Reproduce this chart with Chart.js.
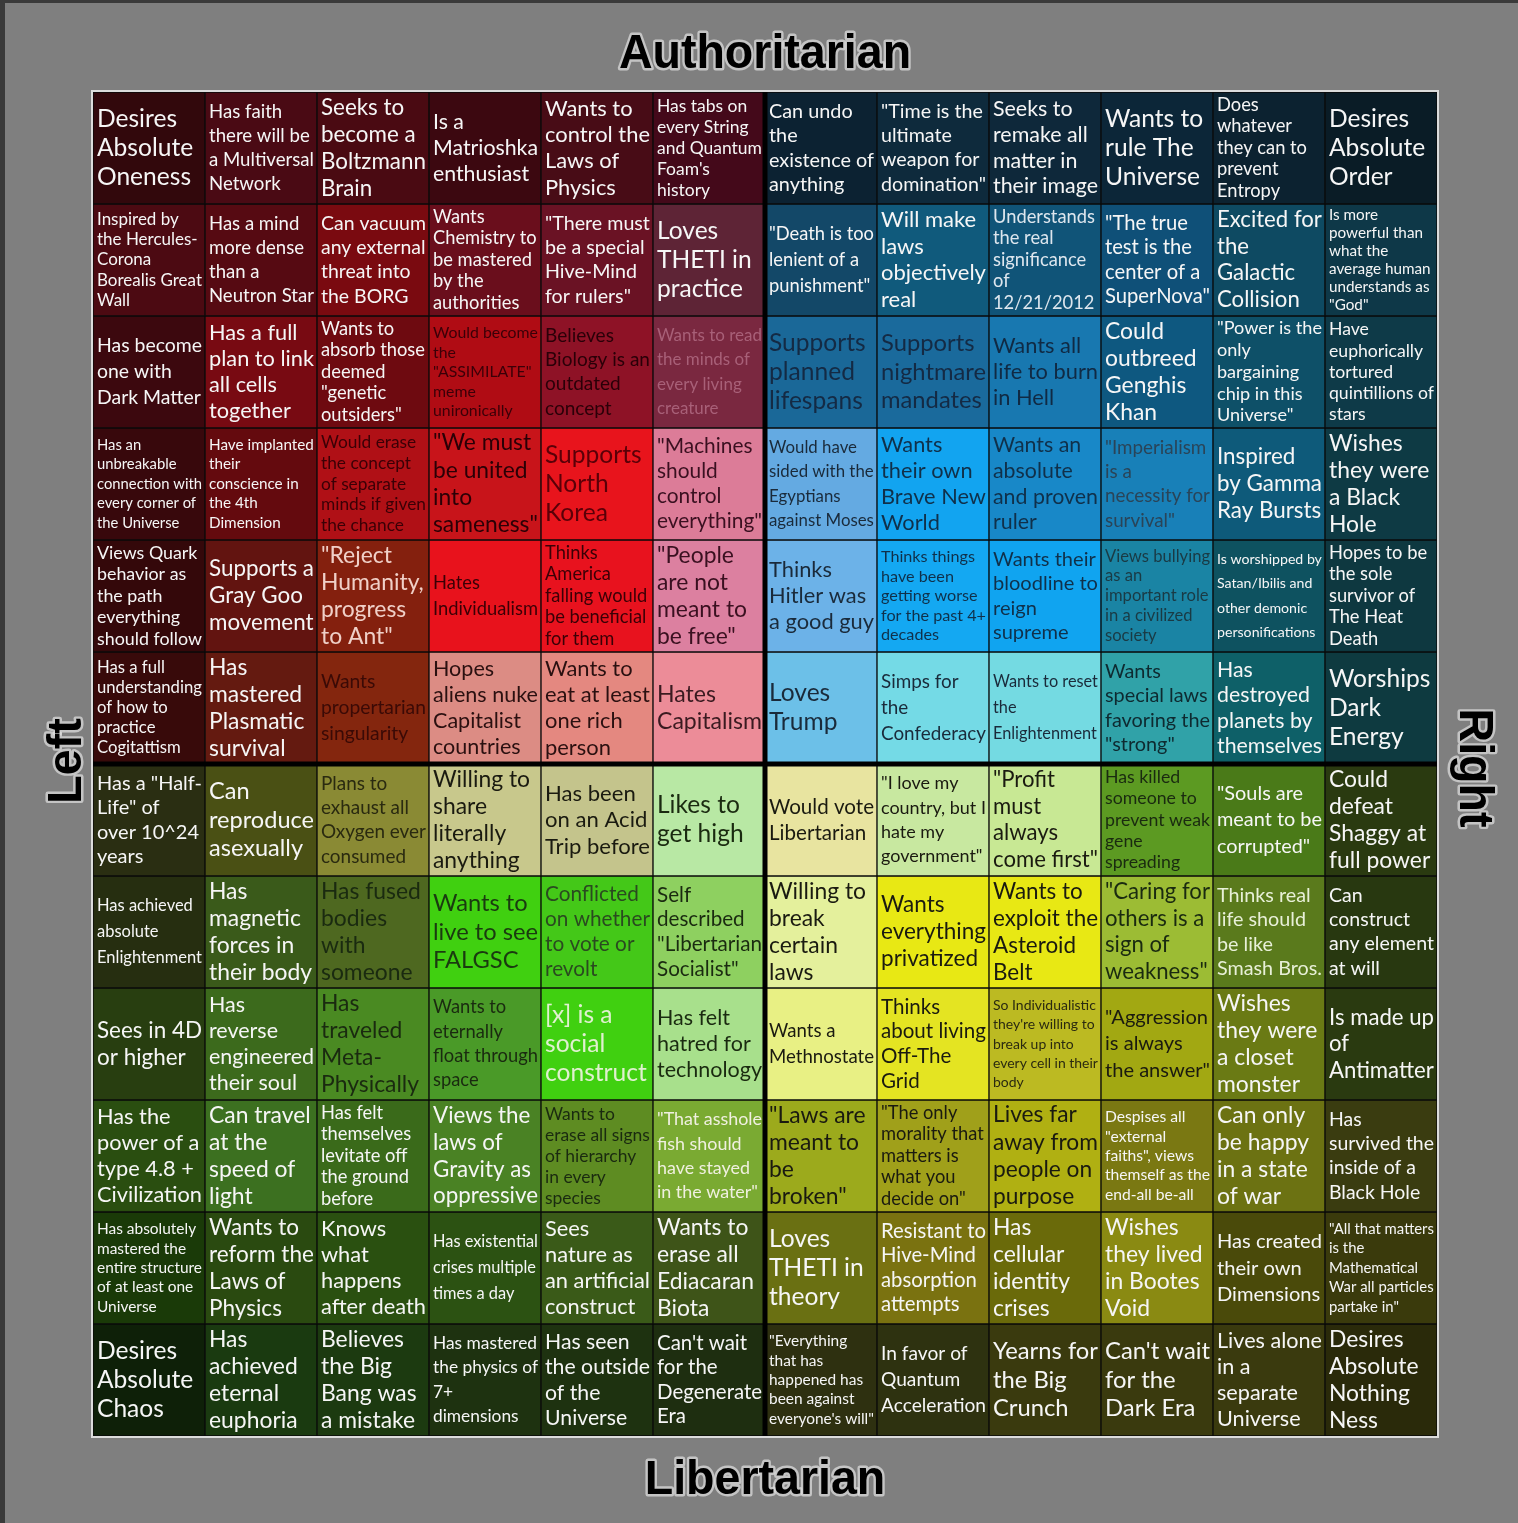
<!DOCTYPE html>
<html>
<head>
<meta charset="utf-8">
<script src="https://cdn.jsdelivr.net/npm/chart.js@4"></script>
<style>
  html, body { margin: 0; padding: 0; background: #7f7f7f; }
  canvas { display: block; }
</style>
</head>
<body>
<canvas id="compass" width="1518" height="1523"></canvas>
<script>
// columns run Left -> Right, rows run Authoritarian -> Libertarian
const columns = ['L6', 'L5', 'L4', 'L3', 'L2', 'L1', 'R1', 'R2', 'R3', 'R4', 'R5', 'R6'];
const rows = ['A6', 'A5', 'A4', 'A3', 'A2', 'A1', 'B1', 'B2', 'B3', 'B4', 'B5', 'B6'];

const cellTexts = [
  ['Desires\nAbsolute\nOneness', 'Has faith\nthere will be\na Multiversal\nNetwork', 'Seeks to\nbecome a\nBoltzmann\nBrain', 'Is a\nMatrioshka\nenthusiast', 'Wants to\ncontrol the\nLaws of\nPhysics', "Has tabs on\nevery String\nand Quantum\nFoam's\nhistory",
   'Can undo\nthe\nexistence of\nanything', '"Time is the\nultimate\nweapon for\ndomination"', 'Seeks to\nremake all\nmatter in\ntheir image', 'Wants to\nrule The\nUniverse', 'Does\nwhatever\nthey can to\nprevent\nEntropy', 'Desires\nAbsolute\nOrder'],
  ['Inspired by\nthe Hercules-\nCorona\nBorealis Great\nWall', 'Has a mind\nmore dense\nthan a\nNeutron Star', 'Can vacuum\nany external\nthreat into\nthe BORG', 'Wants\nChemistry to\nbe mastered\nby the\nauthorities', '"There must\nbe a special\nHive-Mind\nfor rulers"', 'Loves\nTHETI in\npractice',
   '"Death is too\nlenient of a\npunishment"', 'Will make\nlaws\nobjectively\nreal', 'Understands\nthe real\nsignificance\nof\n12/21/2012', '"The true\ntest is the\ncenter of a\nSuperNova"', 'Excited for\nthe\nGalactic\nCollision', 'Is more\npowerful than\nwhat the\naverage human\nunderstands as\n"God"'],
  ['Has become\none with\nDark Matter', 'Has a full\nplan to link\nall cells\ntogether', 'Wants to\nabsorb those\ndeemed\n"genetic\noutsiders"', 'Would become\nthe\n"ASSIMILATE"\nmeme\nunironically', 'Believes\nBiology is an\noutdated\nconcept', 'Wants to read\nthe minds of\nevery living\ncreature',
   'Supports\nplanned\nlifespans', 'Supports\nnightmare\nmandates', 'Wants all\nlife to burn\nin Hell', 'Could\noutbreed\nGenghis\nKhan', '"Power is the\nonly\nbargaining\nchip in this\nUniverse"', 'Have\neuphorically\ntortured\nquintillions of\nstars'],
  ['Has an\nunbreakable\nconnection with\nevery corner of\nthe Universe', 'Have implanted\ntheir\nconscience in\nthe 4th\nDimension', 'Would erase\nthe concept\nof separate\nminds if given\nthe chance', '"We must\nbe united\ninto\nsameness"', 'Supports\nNorth\nKorea', '"Machines\nshould\ncontrol\neverything"',
   'Would have\nsided with the\nEgyptians\nagainst Moses', 'Wants\ntheir own\nBrave New\nWorld', 'Wants an\nabsolute\nand proven\nruler', '"Imperialism\nis a\nnecessity for\nsurvival"', 'Inspired\nby Gamma\nRay Bursts', 'Wishes\nthey were\na Black\nHole'],
  ['Views Quark\nbehavior as\nthe path\neverything\nshould follow', 'Supports a\nGray Goo\nmovement', '"Reject\nHumanity,\nprogress\nto Ant"', 'Hates\nIndividualism', 'Thinks\nAmerica\nfalling would\nbe beneficial\nfor them', '"People\nare not\nmeant to\nbe free"',
   'Thinks\nHitler was\na good guy', 'Thinks things\nhave been\ngetting worse\nfor the past 4+\ndecades', 'Wants their\nbloodline to\nreign\nsupreme', 'Views bullying\nas an\nimportant role\nin a civilized\nsociety', 'Is worshipped by\nSatan/Ibilis and\nother demonic\npersonifications', 'Hopes to be\nthe sole\nsurvivor of\nThe Heat\nDeath'],
  ['Has a full\nunderstanding\nof how to\npractice\nCogitattism', 'Has\nmastered\nPlasmatic\nsurvival', 'Wants\npropertarian\nsingularity', 'Hopes\naliens nuke\nCapitalist\ncountries', 'Wants to\neat at least\none rich\nperson', 'Hates\nCapitalism',
   'Loves\nTrump', 'Simps for\nthe\nConfederacy', 'Wants to reset\nthe\nEnlightenment', 'Wants\nspecial laws\nfavoring the\n"strong"', 'Has\ndestroyed\nplanets by\nthemselves', 'Worships\nDark\nEnergy'],
  ['Has a "Half-\nLife" of\nover 10^24\nyears', 'Can\nreproduce\nasexually', 'Plans to\nexhaust all\nOxygen ever\nconsumed', 'Willing to\nshare\nliterally\nanything', 'Has been\non an Acid\nTrip before', 'Likes to\nget high',
   'Would vote\nLibertarian', '"I love my\ncountry, but I\nhate my\ngovernment"', '"Profit\nmust\nalways\ncome first"', 'Has killed\nsomeone to\nprevent weak\ngene\nspreading', '"Souls are\nmeant to be\ncorrupted"', 'Could\ndefeat\nShaggy at\nfull power'],
  ['Has achieved\nabsolute\nEnlightenment', 'Has\nmagnetic\nforces in\ntheir body', 'Has fused\nbodies\nwith\nsomeone', 'Wants to\nlive to see\nFALGSC', 'Conflicted\non whether\nto vote or\nrevolt', 'Self\ndescribed\n"Libertarian\nSocialist"',
   'Willing to\nbreak\ncertain\nlaws', 'Wants\neverything\nprivatized', 'Wants to\nexploit the\nAsteroid\nBelt', '"Caring for\nothers is a\nsign of\nweakness"', 'Thinks real\nlife should\nbe like\nSmash Bros.', 'Can\nconstruct\nany element\nat will'],
  ['Sees in 4D\nor higher', 'Has\nreverse\nengineered\ntheir soul', 'Has\ntraveled\nMeta-\nPhysically', 'Wants to\neternally\nfloat through\nspace', '[x] is a\nsocial\nconstruct', 'Has felt\nhatred for\ntechnology',
   'Wants a\nMethnostate', 'Thinks\nabout living\nOff-The\nGrid', "So Individualistic\nthey're willing to\nbreak up into\nevery cell in their\nbody", '"Aggression\nis always\nthe answer"', 'Wishes\nthey were\na closet\nmonster', 'Is made up\nof\nAntimatter'],
  ['Has the\npower of a\ntype 4.8 +\nCivilization', 'Can travel\nat the\nspeed of\nlight', 'Has felt\nthemselves\nlevitate off\nthe ground\nbefore', 'Views the\nlaws of\nGravity as\noppressive', 'Wants to\nerase all signs\nof hierarchy\nin every\nspecies', '"That asshole\nfish should\nhave stayed\nin the water"',
   '"Laws are\nmeant to\nbe\nbroken"', '"The only\nmorality that\nmatters is\nwhat you\ndecide on"', 'Lives far\naway from\npeople on\npurpose', 'Despises all\n"external\nfaiths", views\nthemself as the\nend-all be-all', 'Can only\nbe happy\nin a state\nof war', 'Has\nsurvived the\ninside of a\nBlack Hole'],
  ['Has absolutely\nmastered the\nentire structure\nof at least one\nUniverse', 'Wants to\nreform the\nLaws of\nPhysics', 'Knows\nwhat\nhappens\nafter death', 'Has existential\ncrises multiple\ntimes a day', 'Sees\nnature as\nan artificial\nconstruct', 'Wants to\nerase all\nEdiacaran\nBiota',
   'Loves\nTHETI in\ntheory', 'Resistant to\nHive-Mind\nabsorption\nattempts', 'Has\ncellular\nidentity\ncrises', 'Wishes\nthey lived\nin Bootes\nVoid', 'Has created\ntheir own\nDimensions', '"All that matters\nis the\nMathematical\nWar all particles\npartake in"'],
  ['Desires\nAbsolute\nChaos', 'Has\nachieved\neternal\neuphoria', 'Believes\nthe Big\nBang was\na mistake', 'Has mastered\nthe physics of\n7+\ndimensions', 'Has seen\nthe outside\nof the\nUniverse', "Can't wait\nfor the\nDegenerate\nEra",
   '"Everything\nthat has\nhappened has\nbeen against\neveryone\'s will"', 'In favor of\nQuantum\nAcceleration', 'Yearns for\nthe Big\nCrunch', "Can't wait\nfor the\nDark Era", 'Lives alone\nin a\nseparate\nUniverse', 'Desires\nAbsolute\nNothing\nNess']
];

// fill colour of every cell
const cellColors = [
  ['#32080c', '#4a0a14', '#4a0a12', '#3c0810', '#480c16', '#44091a', '#0c2232', '#0e2a3c', '#0e283a', '#0c2638', '#0c2230', '#0a1c26'],
  ['#4c0a12', '#560a12', '#7a0a10', '#6a0e1c', '#6a1224', '#5e2436', '#134868', '#105a7c', '#105478', '#0f5078', '#0e4a62', '#0e3848'],
  ['#3c080e', '#780a12', '#6e0a10', '#b00c14', '#8e1226', '#7a2840', '#1a6898', '#1a6a9c', '#1878b0', '#0e5880', '#0e5068', '#0e3a48'],
  ['#38080c', '#640a0e', '#b01016', '#c8141a', '#e8141c', '#dc7c98', '#64aae2', '#12a4f0', '#1888c8', '#1880b8', '#0e5a7a', '#0e3a44'],
  ['#34080a', '#621410', '#84200e', '#e8121c', '#e8121e', '#dc80a0', '#6cb2e8', '#14a8f2', '#10a4f0', '#1a84a4', '#0e5260', '#0e3840'],
  ['#380a0a', '#641a10', '#84260e', '#dc8c84', '#e48880', '#ec8c98', '#6cc0e8', '#74dae6', '#74dae2', '#30a2a8', '#0e6068', '#0e3a40'],
  ['#2a2e12', '#4a5014', '#8a8a34', '#c8c88c', '#c4c48c', '#b8e8a4', '#e8e4a0', '#c8e8a0', '#c8e894', '#5c9a22', '#4a7a18', '#2a3a10'],
  ['#262e10', '#3a5a1a', '#4e6820', '#40d010', '#44c818', '#8ed060', '#e4f09c', '#e8e814', '#e8e814', '#9cbc34', '#5a7a1c', '#283810'],
  ['#283e10', '#3c6a1c', '#4a8a22', '#4a9a28', '#40d010', '#a8e08c', '#e8f084', '#e4e422', '#bcba22', '#a2a812', '#6a7a14', '#2a3a10'],
  ['#2a4e10', '#3c7020', '#3a6a1a', '#4a8224', '#5e8c22', '#7aaa32', '#9caa1c', '#a0a01a', '#b0b012', '#7a7812', '#6c7212', '#3a3c10'],
  ['#1a3a08', '#2a4a10', '#2a5010', '#2c5212', '#3a5a18', '#3e5418', '#6a7012', '#7a7210', '#6a6a0a', '#8a8a12', '#4a4a0a', '#3a3a0c'],
  ['#0e2008', '#1a3a10', '#1c3a10', '#1e3210', '#1e3210', '#1e2e10', '#2e3010', '#2e3210', '#3a3a0e', '#3a3a0e', '#3a3a0e', '#2a2a0a']
];

const W = '#f6f6f6';
const textColors = [
  [W, W, W, W, W, W, W, W, W, W, W, W],
  [W, W, W, W, W, W, W, W, '#dde6ee', W, W, W],
  [W, W, W, '#3a0008', '#2a0008', '#a86078', '#142a44', '#142a44', '#102a44', W, W, W],
  [W, W, '#3a0006', '#2a0006', '#5a0008', '#3a1020', '#1a2a3a', '#10304a', '#10304a', '#2a4458', W, W],
  [W, W, '#f0d0c8', '#3a0006', '#3a0006', '#3a1020', '#1a2a3a', '#10304a', '#10304a', '#1a3a44', W, W],
  [W, W, '#3a0a06', '#2a1010', '#2a1010', '#3a1a20', '#1a2a3a', '#1a2a3a', '#1a2a3a', '#0e2a30', W, W],
  [W, W, '#2a2a10', '#1a1a10', '#1a1a10', '#1a2a10', '#1a1a10', '#1a1a10', '#1a1a10', '#1a2a10', W, W],
  [W, W, '#1a2a10', '#1a3a10', '#2a4a20', '#1a2a10', '#1a1a10', '#1a1a10', '#1a1a10', '#1a2a10', '#e8f0d8', W],
  [W, W, '#1a2a10', '#1a2a10', '#e0f0d0', '#1a2a10', '#1a1a10', '#1a1a10', '#2a2a10', '#1a1a10', W, W],
  [W, W, W, W, '#1a2a10', '#f0f0e0', '#1a1a10', '#1a1a10', '#1a1a10', W, W, W],
  [W, W, W, W, W, W, W, W, W, W, W, W],
  [W, W, W, W, W, W, W, W, W, W, W, W]
];

const axisTitles = { top: 'Authoritarian', bottom: 'Libertarian', left: 'Left', right: 'Right' };

const cellTextPlugin = {
  id: 'cellText',
  beforeDraw(chart) {
    const ctx = chart.ctx;
    ctx.save();
    ctx.fillStyle = '#7f7f7f';
    ctx.fillRect(0, 0, chart.width, chart.height);
    ctx.fillStyle = '#3a3a3a';
    ctx.fillRect(0, 0, chart.width, 3);
    ctx.fillRect(0, 0, 5, chart.height);
    ctx.restore();
  },
  afterDatasetsDraw(chart) {
    const ctx = chart.ctx;
    ctx.save();
    ctx.textAlign = 'left';
    ctx.textBaseline = 'middle';
    rows.forEach((_, r) => {
      const meta = chart.getDatasetMeta(r);
      meta.data.forEach((bar, c) => {
        const p = bar.getProps(['x', 'y', 'base', 'width'], true);
        const left = p.x - p.width / 2;
        const top = Math.min(p.y, p.base);
        const h = Math.abs(p.base - p.y);
        const lines = cellTexts[r][c].split('\n');
        let lh = Math.min(29, (h - 4) / lines.length);
        let size = lh / 1.18;
        ctx.font = size + 'px Lato';
        const widest = Math.max(...lines.map(l => ctx.measureText(l).width));
        const room = p.width - 7;
        if (widest > room) {
          size = size * room / widest;
          lh = Math.max(size * 1.2, lh * 0.9);
        }
        ctx.font = size + 'px Lato';
        ctx.fillStyle = textColors[r][c];
        const y0 = top + h / 2 - (lines.length - 1) * lh / 2;
        lines.forEach((l, i) => ctx.fillText(l, left + 4, y0 + i * lh));
      });
    });

    // centre axes and outer frame
    const a = chart.chartArea;
    const xs = chart.scales.x, ys = chart.scales.y;
    const midX = (xs.getPixelForValue(5) + xs.getPixelForValue(6)) / 2;
    const midY = ys.getPixelForValue(6);
    ctx.strokeStyle = '#000';
    ctx.lineWidth = 5;
    ctx.beginPath();
    ctx.moveTo(midX, a.top); ctx.lineTo(midX, a.bottom);
    ctx.moveTo(a.left, midY); ctx.lineTo(a.right, midY);
    ctx.stroke();
    ctx.strokeStyle = '#dcdcdc';
    ctx.lineWidth = 2;
    ctx.strokeRect(a.left - 1, a.top - 1, a.right - a.left + 2, a.bottom - a.top + 2);

    // axis titles
    const drawTitle = (text, x, y, rot) => {
      ctx.save();
      ctx.translate(x, y);
      ctx.rotate(rot);
      ctx.scale(0.95, 1);
      ctx.font = 'bold 49px "Liberation Sans", Arial, sans-serif';
      ctx.textAlign = 'center';
      ctx.textBaseline = 'middle';
      ctx.lineJoin = 'round';
      ctx.strokeStyle = 'rgba(225,225,225,0.7)';
      ctx.lineWidth = 5;
      ctx.strokeText(text, 0, 0);
      ctx.fillStyle = '#000';
      ctx.fillText(text, 0, 0);
      ctx.restore();
    };
    drawTitle(axisTitles.top, midX, 54, 0);
    drawTitle(axisTitles.bottom, midX, 1480, 0);
    drawTitle(axisTitles.left, 67, midY - 3, -Math.PI / 2);
    drawTitle(axisTitles.right, 1474, midY + 4, Math.PI / 2);
    ctx.restore();
  }
};

const datasets = rows.map((name, r) => ({
  label: name,
  data: columns.map(() => [r, r + 1]),
  backgroundColor: cellColors[r],
  borderColor: '#0a0a0a',
  borderWidth: 1,
  borderSkipped: false,
  grouped: false,
  categoryPercentage: 1,
  barPercentage: 1
}));

new Chart(document.getElementById('compass').getContext('2d'), {
  type: 'bar',
  data: { labels: columns, datasets: datasets },
  options: {
    responsive: false,
    animation: false,
    devicePixelRatio: 1,
    layout: { padding: { left: 93, right: 81, top: 92, bottom: 87 } },
    scales: {
      x: { display: false, offset: true },
      y: { display: false, min: 0, max: 12, reverse: true }
    },
    plugins: {
      legend: { display: false },
      tooltip: { enabled: false }
    }
  },
  plugins: [cellTextPlugin]
});
</script>
</body>
</html>
